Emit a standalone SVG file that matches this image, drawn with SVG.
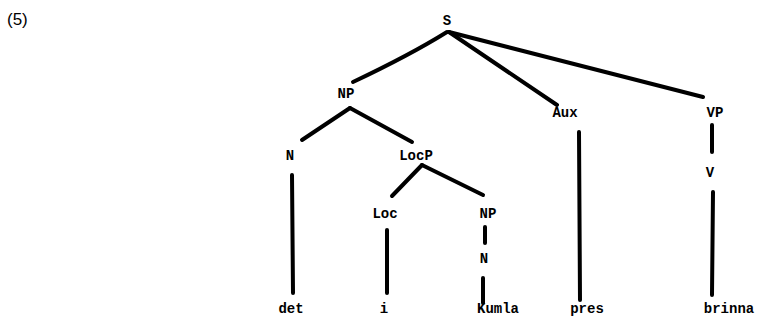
<svg xmlns="http://www.w3.org/2000/svg" width="771" height="325" viewBox="0 0 771 325">
<style>
.t{font-family:"Liberation Mono","DejaVu Sans Mono",monospace;font-size:14px;fill:#000;text-anchor:middle;font-weight:bold}
.c path{fill:none;stroke:#000;stroke-width:4;stroke-linecap:round}
</style>
<rect width="771" height="325" fill="#fff"/>
<text x="7" y="25" style="font-family:'Liberation Sans',Arial,sans-serif;font-size:17px;fill:#000">(5)</text>
<g class="c">
<path d="M447,32 Q410,55 353,82"/>
<path d="M449,32 L557,105"/>
<path d="M449,32 Q560,60 703,97"/>
<path d="M350,108 L302,140"/>
<path d="M350,108 L412,142"/>
<path d="M292,175 L293,293"/>
<path d="M422,165 L392,196"/>
<path d="M422,165 L483,195"/>
<path d="M387,230 L387,293"/>
<path d="M485,227 L485,243"/>
<path d="M483,278 L483,303"/>
<path d="M579,132 L580,300"/>
<path d="M712,125 L712,152"/>
<path d="M713,192 L712,295"/>
</g>
<g id="n-S"><text class="t" x="447" y="25">S</text></g>
<g id="n-NP1"><text class="t" x="346" y="98">NP</text></g>
<g id="n-Aux"><text class="t" x="565" y="117">Aux</text></g>
<g id="n-VP"><text class="t" x="715" y="117">VP</text></g>
<g id="n-N1"><text class="t" x="290" y="160">N</text></g>
<g id="n-LocP"><text class="t" x="416" y="160">LocP</text></g>
<g id="n-V"><text class="t" x="710" y="177">V</text></g>
<g id="n-Loc"><text class="t" x="385" y="218">Loc</text></g>
<g id="n-NP2"><text class="t" x="488" y="218">NP</text></g>
<g id="n-N2"><text class="t" x="484" y="263">N</text></g>
<g id="n-det"><text class="t" x="291" y="313">det</text></g>
<g id="n-i"><text class="t" x="384" y="313">i</text></g>
<g id="n-Kumla"><text class="t" x="498" y="313">Kumla</text></g>
<g id="n-pres"><text class="t" x="587" y="313">pres</text></g>
<g id="n-brinna"><text class="t" x="729" y="313">brinna</text></g>
</svg>
